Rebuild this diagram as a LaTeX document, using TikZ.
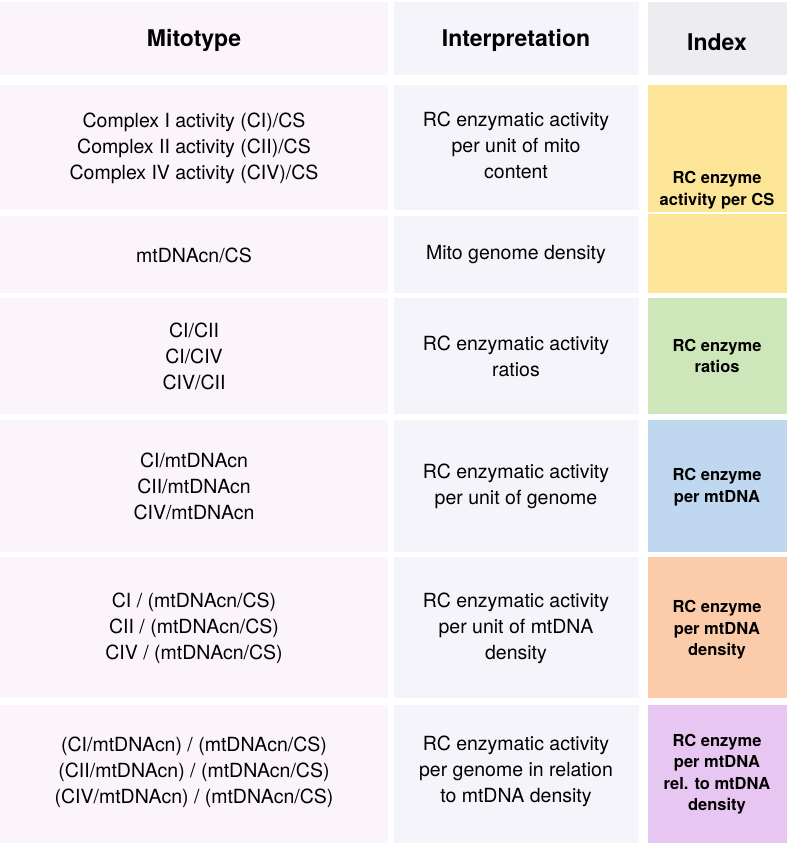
\documentclass[tikz,border=0pt]{standalone}
\usepackage{fontspec}
\setmainfont{TeX Gyre Heros}
\definecolor{cA}{HTML}{FBF4FB}
\definecolor{cB}{HTML}{F5F4FA}
\definecolor{cH}{HTML}{EDEDF1}
\definecolor{cY}{HTML}{FDE598}
\definecolor{cG}{HTML}{CDE6BA}
\definecolor{cBl}{HTML}{C0D8EF}
\definecolor{cO}{HTML}{FCCBAA}
\definecolor{cP}{HTML}{E8C6F2}
\begin{document}
\begin{tikzpicture}[x=1pt,y=-1pt,
  body/.style={align=center,font=\fontsize{19.5}{26}\selectfont,text=black},
  head/.style={font=\fontsize{23}{28}\selectfont\bfseries},
  idx/.style={align=center,font=\fontsize{16.5}{21.5}\selectfont\bfseries}]
\useasboundingbox[fill=white] (0,0) rectangle (790,846);
% backgrounds
\foreach \t/\b in {2/75,85/210,216/293,298/414,420/552,557/698,705/843}{
  \fill[cA] (0,\t) rectangle (388,\b);
  \fill[cB] (394,\t) rectangle (639,\b);
}
\fill[cH] (648,2) rectangle (787,75);
\fill[cY] (648,85) rectangle (787,293);
\draw[white,line width=1.5pt] (648,213) -- (787,213);
\fill[cG] (648,298) rectangle (787,414);
\fill[cBl] (648,420) rectangle (787,552);
\fill[cO] (648,557) rectangle (787,698);
\fill[cP] (648,705) rectangle (787,843);
% header
\node[head] (h1) at (194,40) {Mitotype};
\node[head] (h2) at (516,40) {Interpretation};
\node[head] (h3) at (717,42) {Index};
% mitotype
\node[body] (m1) at (194,148) {Complex I activity (CI)/CS\\Complex II activity (CII)/CS\\Complex IV activity (CIV)/CS};
\node[body] (m2) at (194,255) {mtDNAcn/CS};
\node[body] (m3) at (194,356) {CI/CII\\CI/CIV\\CIV/CII};
\node[body] (m4) at (194,486) {CI/mtDNAcn\\CII/mtDNAcn\\CIV/mtDNAcn};
\node[body] (m5) at (194,628) {CI / (mtDNAcn/CS)\\CII / (mtDNAcn/CS)\\CIV / (mtDNAcn/CS)};
\node[body] (m6) at (194,772) {(CI/mtDNAcn) / (mtDNAcn/CS)\\(CII/mtDNAcn) / (mtDNAcn/CS)\\(CIV/mtDNAcn) / (mtDNAcn/CS)};
% interpretation
\node[body] (i1) at (516,145) {RC enzymatic activity\\per unit of mito\\content};
\node[body] (i2) at (516,255) {Mito genome density};
\node[body] (i3) at (516,356) {RC enzymatic activity\\ratios};
\node[body] (i4) at (516,486) {RC enzymatic activity\\per unit of genome};
\node[body] (i5) at (516,628) {RC enzymatic activity\\per unit of mtDNA\\density};
\node[body] (i6) at (516,771) {RC enzymatic activity\\per genome in relation\\to mtDNA density};
% index
\node[idx] (x1) at (717,190) {RC enzyme\\activity per CS};
\node[idx] (x3) at (717,356) {RC enzyme\\ratios};
\node[idx] (x4) at (717,487) {RC enzyme\\per mtDNA};
\node[idx] (x5) at (717,630) {RC enzyme\\per mtDNA\\density};
\node[idx] (x6) at (717,774) {RC enzyme\\per mtDNA\\rel. to mtDNA\\density};
\end{tikzpicture}
\end{document}
